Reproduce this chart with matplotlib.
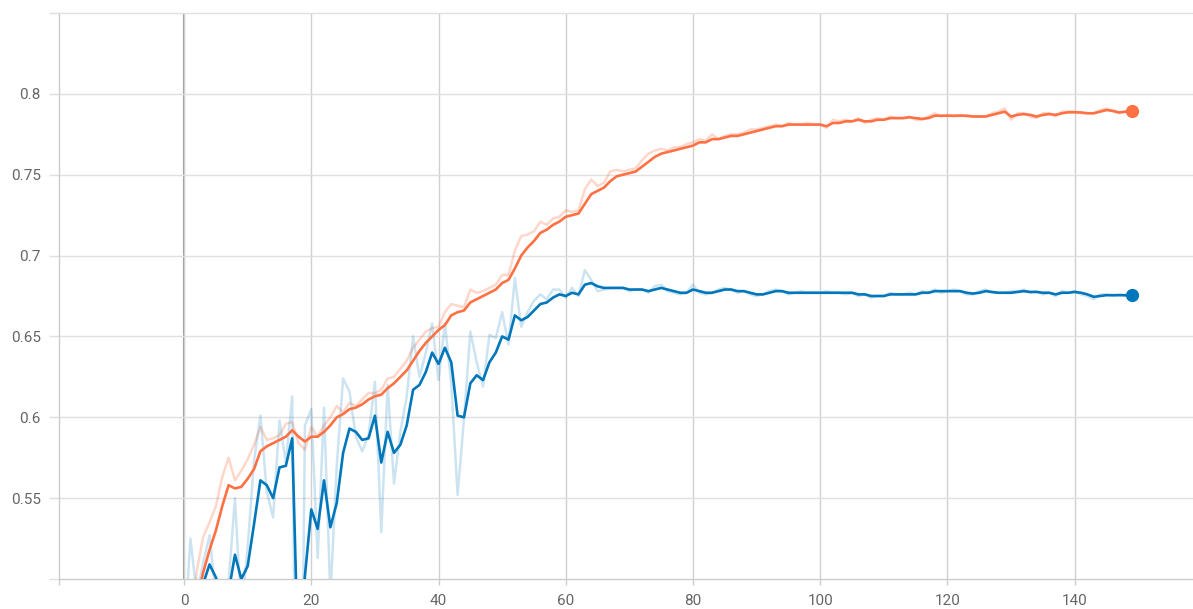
import matplotlib
matplotlib.use('Agg')
import matplotlib.pyplot as plt
import numpy as np

plt.rcParams['font.family'] = ['Roboto', 'DejaVu Sans']

# steps 0..149
steps = np.arange(150)

# train accuracy (orange): raw and smoothed values
train_raw = [
    0.440, 0.470, 0.505, 0.526, 0.535, 0.545, 0.563, 0.575, 0.561, 0.567,
    0.574, 0.583, 0.594, 0.586, 0.587, 0.589, 0.596, 0.597, 0.584, 0.580,
    0.594, 0.588, 0.595, 0.600, 0.607, 0.603, 0.609, 0.607, 0.611, 0.615,
    0.615, 0.617, 0.624, 0.625, 0.630, 0.635, 0.643, 0.648, 0.653, 0.655,
    0.656, 0.665, 0.670, 0.669, 0.668, 0.679, 0.677, 0.678, 0.680, 0.682,
    0.688, 0.688, 0.703, 0.712, 0.713, 0.715, 0.721, 0.719, 0.723, 0.724,
    0.728, 0.727, 0.728, 0.741, 0.747, 0.743, 0.745, 0.752, 0.753, 0.752,
    0.753, 0.754, 0.759, 0.763, 0.765, 0.766, 0.765, 0.767, 0.767, 0.769,
    0.770, 0.772, 0.771, 0.775, 0.772, 0.774, 0.775, 0.775, 0.776, 0.778,
    0.778, 0.779, 0.780, 0.781, 0.780, 0.782, 0.781, 0.781, 0.782, 0.781,
    0.781, 0.779, 0.784, 0.783, 0.784, 0.783, 0.785, 0.782, 0.784, 0.785,
    0.784, 0.786, 0.785, 0.785, 0.786, 0.784, 0.784, 0.786, 0.788, 0.786,
    0.787, 0.786, 0.787, 0.786, 0.786, 0.786, 0.786, 0.788, 0.789, 0.791,
    0.784, 0.788, 0.788, 0.786, 0.785, 0.788, 0.788, 0.786, 0.789, 0.789,
    0.789, 0.788, 0.788, 0.788, 0.790, 0.791, 0.789, 0.788, 0.789, 0.790,
]
train_smooth = [
    0.450, 0.468, 0.487, 0.504, 0.518, 0.530, 0.545, 0.558, 0.556, 0.557,
    0.562, 0.568, 0.579, 0.582, 0.584, 0.586, 0.588, 0.592, 0.588, 0.585,
    0.588, 0.588, 0.591, 0.595, 0.600, 0.602, 0.605, 0.606, 0.608, 0.611,
    0.613, 0.614, 0.618, 0.621, 0.625, 0.629, 0.635, 0.641, 0.646, 0.650,
    0.654, 0.657, 0.663, 0.665, 0.666, 0.671, 0.673, 0.675, 0.677, 0.679,
    0.683, 0.685, 0.692, 0.700, 0.705, 0.709, 0.714, 0.716, 0.719, 0.721,
    0.724, 0.725, 0.726, 0.732, 0.738, 0.740, 0.742, 0.746, 0.749, 0.750,
    0.751, 0.752, 0.755, 0.758, 0.761, 0.763, 0.764, 0.765, 0.766, 0.767,
    0.768, 0.770, 0.770, 0.772, 0.772, 0.773, 0.774, 0.774, 0.775, 0.776,
    0.777, 0.778, 0.779, 0.780, 0.780, 0.781, 0.781, 0.781, 0.781, 0.781,
    0.781, 0.780, 0.782, 0.782, 0.783, 0.783, 0.784, 0.783, 0.783, 0.784,
    0.784, 0.785, 0.785, 0.785, 0.7855, 0.785, 0.7845, 0.785, 0.7865, 0.7865,
    0.7865, 0.7865, 0.7865, 0.7865, 0.786, 0.786, 0.786, 0.787, 0.788, 0.789,
    0.786, 0.787, 0.7875, 0.787, 0.786, 0.787, 0.7875, 0.787, 0.788, 0.7886,
    0.7886, 0.7885, 0.788, 0.788, 0.789, 0.790, 0.7895, 0.7885, 0.789, 0.7895,
]

# validation accuracy (blue): raw and smoothed
val_raw = [
    0.462, 0.525, 0.490, 0.510, 0.527, 0.489, 0.468, 0.498, 0.550, 0.478,
    0.520, 0.573, 0.601, 0.554, 0.538, 0.598, 0.572, 0.613, 0.220, 0.595,
    0.605, 0.513, 0.606, 0.489, 0.570, 0.624, 0.616, 0.588, 0.579, 0.589,
    0.622, 0.529, 0.620, 0.559, 0.591, 0.613, 0.650, 0.625, 0.640, 0.658,
    0.623, 0.658, 0.621, 0.552, 0.599, 0.653, 0.634, 0.619, 0.651, 0.649,
    0.665, 0.645, 0.686, 0.656, 0.665, 0.672, 0.676, 0.673, 0.679, 0.679,
    0.674, 0.680, 0.675, 0.691, 0.685, 0.678, 0.679, 0.680, 0.680, 0.680,
    0.678, 0.679, 0.679, 0.677, 0.681, 0.682, 0.678, 0.677, 0.676, 0.677,
    0.682, 0.677, 0.676, 0.677, 0.679, 0.680, 0.679, 0.677, 0.678, 0.676,
    0.675, 0.676, 0.678, 0.679, 0.678, 0.676, 0.677, 0.678, 0.677, 0.677,
    0.677, 0.678, 0.677, 0.677, 0.676, 0.677, 0.675, 0.676, 0.674, 0.675,
    0.675, 0.677, 0.676, 0.676, 0.677, 0.676, 0.678, 0.677, 0.679, 0.677,
    0.678, 0.679, 0.678, 0.676, 0.676, 0.678, 0.679, 0.677, 0.677, 0.677,
    0.678, 0.678, 0.679, 0.677, 0.678, 0.676, 0.677, 0.675, 0.678, 0.677,
    0.678, 0.676, 0.675, 0.673, 0.676, 0.676, 0.675, 0.676, 0.675, 0.676,
]
val_smooth = [
    0.462, 0.487, 0.488, 0.497, 0.509, 0.501, 0.488, 0.492, 0.515, 0.500,
    0.508, 0.534, 0.561, 0.558, 0.550, 0.569, 0.570, 0.587, 0.440, 0.502,
    0.543, 0.531, 0.561, 0.532, 0.547, 0.578, 0.593, 0.591, 0.586, 0.587,
    0.601, 0.572, 0.591, 0.578, 0.583, 0.595, 0.617, 0.620, 0.628, 0.640,
    0.633, 0.643, 0.634, 0.601, 0.600, 0.621, 0.626, 0.623, 0.634, 0.640,
    0.650, 0.648, 0.663, 0.660, 0.662, 0.666, 0.670, 0.671, 0.674, 0.676,
    0.675, 0.677, 0.676, 0.682, 0.683, 0.681, 0.680, 0.680, 0.680, 0.680,
    0.679, 0.679, 0.679, 0.678, 0.679, 0.680, 0.679, 0.678, 0.677, 0.677,
    0.679, 0.678, 0.677, 0.677, 0.678, 0.679, 0.679, 0.678, 0.678, 0.677,
    0.676, 0.676, 0.677, 0.678, 0.678, 0.677, 0.677, 0.677, 0.677, 0.677,
    0.677, 0.677, 0.677, 0.677, 0.677, 0.677, 0.676, 0.676, 0.675, 0.675,
    0.675, 0.676, 0.676, 0.676, 0.676, 0.676, 0.677, 0.677, 0.678, 0.678,
    0.678, 0.678, 0.678, 0.677, 0.6765, 0.677, 0.678, 0.6775, 0.677, 0.677,
    0.677, 0.6775, 0.678, 0.6775, 0.6775, 0.677, 0.677, 0.676, 0.677, 0.677,
    0.6775, 0.677, 0.676, 0.6745, 0.675, 0.6755, 0.6755, 0.6755, 0.6755, 0.6755,
]

ORANGE = '#ff7043'
BLUE = '#0077bb'

X_MIN, X_MAX = -19.66, 158.6
Y_MIN, Y_MAX = 0.5, 0.85

fig = plt.figure(figsize=(11.93, 6.09), dpi=100)
ax = fig.add_axes([59 / 1193, 30 / 609, 1 - 59 / 1193, 566 / 609])

# raw series, faint
ax.plot(steps, train_raw, color=ORANGE, alpha=0.28, lw=1.8, zorder=2)
ax.plot(steps, val_raw, color=BLUE, alpha=0.2, lw=1.8, zorder=2)
# smoothed series
ax.plot(steps, train_smooth, color=ORANGE, lw=1.9, zorder=3)
ax.plot(steps, val_smooth, color=BLUE, lw=1.9, zorder=3)
# end markers
ax.plot(steps[-1], train_smooth[-1], 'o', color=ORANGE, ms=8.5, zorder=4)
ax.plot(steps[-1], val_smooth[-1], 'o', color=BLUE, ms=8.5, zorder=4)

ax.set_xlim(X_MIN, X_MAX)
ax.set_ylim(Y_MIN, Y_MAX)

ax.set_xticks([0, 20, 40, 60, 80, 100, 120, 140])
ax.set_xticks([X_MIN], minor=True)
ax.set_yticks([0.55, 0.6, 0.65, 0.7, 0.75, 0.8])
ax.set_yticklabels(['0.55', '0.6', '0.65', '0.7', '0.75', '0.8'])
ax.set_yticks([Y_MIN, Y_MAX], minor=True)

ax.grid(True, axis='y', which='major', color='#e0e0e0', lw=1.0, zorder=0)
ax.grid(True, axis='x', which='major', color='#d0d0d0', lw=1.0, zorder=0)
ax.axvline(0, color='#999999', lw=1.5, zorder=1)

ax.spines['right'].set_visible(False)
ax.spines['left'].set_color('#cccccc')
ax.spines['bottom'].set_color('#cccccc')
ax.spines['top'].set_color('#e0e0e0')
for side in ['left', 'bottom', 'top']:
    ax.spines[side].set_linewidth(1.0)

ax.tick_params(axis='y', which='both', length=7, width=1, color='#e0e0e0', pad=6,
               labelsize=11, labelcolor='#666666')
ax.tick_params(axis='x', which='both', length=4, width=1, color='#cccccc', pad=7,
               labelsize=11, labelcolor='#666666')

fig.savefig('out.png', dpi=100)
